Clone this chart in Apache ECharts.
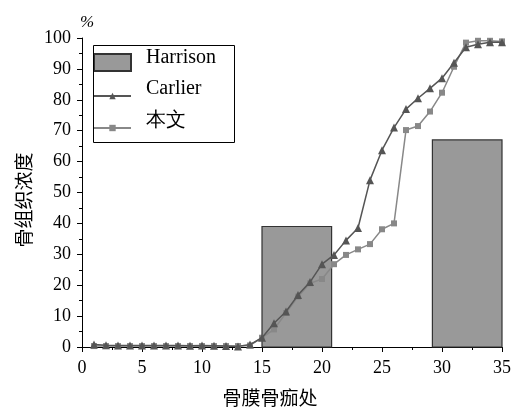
<!DOCTYPE html>
<html>
<head>
<meta charset="utf-8">
<script src="https://cdn.jsdelivr.net/npm/echarts@6/dist/echarts.min.js"></script>
<style>html,body{margin:0;padding:0;background:#fff}#c{width:515px;height:408px}</style>
</head>
<body>
<div id="c"></div>
<script>
// Data
var xTicks = [0, 5, 10, 15, 20, 25, 30, 35];
var harrisonBars = [[15, 20.8, 39], [29.2, 35, 67]]; // [xStart, xEnd, value]
var positions = [1,2,3,4,5,6,7,8,9,10,11,12,13,14,15,16,17,18,19,20,21,22,23,24,25,26,27,28,29,30,31,32,33,34,35];
var carlier = [0.8,0.6,0.5,0.5,0.5,0.5,0.5,0.5,0.4,0.5,0.4,0.3,0.2,0.8,3,7.7,11.5,16.8,21,26.8,29.8,34.5,38.5,54,63.7,71,77,80.5,83.7,87,92,97,98,98.6,98.6];
var benwen = [0.3,0.3,0.3,0.3,0.3,0.3,0.3,0.3,0.3,0.3,0.3,0.3,0.3,0.5,3,5.7,11,16.3,20.6,22,26.8,29.8,31.6,33.3,38.1,40,70.2,71.5,76.2,82.3,90.7,98.5,99.1,99.1,98.9];

function pairs(xs, ys){ return xs.map(function(x,i){return [x, ys[i]];}); }

var chart = echarts.init(document.getElementById('c'), null, {renderer:'canvas'});
var serif = '"Liberation Serif", "Times New Roman", serif';
var cjk = '"Noto Sans CJK SC", sans-serif';
function legendText(padBottom){
  return {
    fontFamily: serif, fontSize: 20, color: '#000',
    rich: {a: {fontFamily: serif, fontSize: 20, color: '#000', lineHeight: 20, padding: [0, 0, padBottom, 10]}}
  };
}
function legendFmt(name){ return '{a|' + name + '}'; }
chart.setOption({
  animation: false,
  backgroundColor: '#fff',
  grid: {left: 82, right: 13, top: 38, bottom: 61, containLabel: false, outerBoundsMode: 'none'},
  legend: [{
    orient: 'vertical', left: 93, top: 48, padding: 0,
    itemWidth: 37, itemHeight: 17,
    textStyle: legendText(9), formatter: legendFmt,
    data: [{name: 'Harrison', icon: 'rect'}]
  }, {
    orient: 'vertical', left: 93, top: 79, padding: 0,
    itemWidth: 37, itemHeight: 8, itemGap: -2,
    textStyle: legendText(14), formatter: legendFmt,
    data: [{name: 'Carlier'}, {name: '本文'}]
  }],
  xAxis: {
    type: 'value', min: 0, max: 35, interval: 5,
    name: '骨膜骨痂处', nameLocation: 'middle', nameGap: 41,
    nameTextStyle: {fontFamily: cjk, fontSize: 19, color: '#000', padding: [0, 44, 0, 0]},
    axisLine: {show: true, onZero: false, lineStyle: {color: '#000', width: 1}},
    axisTick: {show: true, inside: false, length: 5, lineStyle: {color: '#000'}},
    minorTick: {show: true, splitNumber: 2, length: 3, lineStyle: {color: '#000'}},
    axisLabel: {fontFamily: serif, fontSize: 18, color: '#000', margin: 12},
    splitLine: {show: false}
  },
  yAxis: {
    type: 'value', min: 0, max: 100, interval: 10,
    name: '骨组织浓度', nameLocation: 'middle', nameGap: 49, nameRotate: 90,
    nameTextStyle: {fontFamily: cjk, fontSize: 19, color: '#000', padding: [0, 15, 0, 0]},
    axisLine: {show: true, lineStyle: {color: '#000', width: 1}},
    axisTick: {show: true, inside: false, length: 5, lineStyle: {color: '#000'}},
    minorTick: {show: true, splitNumber: 2, length: 3, lineStyle: {color: '#000'}},
    axisLabel: {fontFamily: serif, fontSize: 18, color: '#000', margin: 11},
    splitLine: {show: false}
  },
  graphic: [{
    type: 'text', left: 80, top: 14,
    style: {text: '%', font: 'italic 17px ' + serif, fill: '#000'}
  }, {
    type: 'rect', left: 91, top: 43, z: 100,
    shape: {width: 141, height: 97},
    style: {fill: 'none', stroke: '#000', lineWidth: 1}
  }],
  series: [
    {
      name: 'Harrison', type: 'custom', z: 1,
      itemStyle: {color: '#999999', borderColor: '#333', borderWidth: 1.2},
      encode: {x: [0, 1], y: 2},
      data: harrisonBars,
      renderItem: function(params, api){
        var p0 = api.coord([api.value(0), api.value(2)]);
        var p1 = api.coord([api.value(1), 0]);
        return {
          type: 'rect',
          shape: {x: p0[0], y: p0[1], width: p1[0]-p0[0], height: p1[1]-p0[1]},
          style: {fill: '#999999', stroke: '#333', lineWidth: 1.2}
        };
      }
    },
    {
      name: 'Carlier', type: 'line', z: 3,
      data: pairs(positions, carlier),
      symbol: 'triangle', symbolSize: 8,
      lineStyle: {color: '#555', width: 1.5},
      itemStyle: {color: '#555'}
    },
    {
      name: '本文', type: 'line', z: 2,
      data: pairs(positions, benwen),
      symbol: 'rect', symbolSize: 6,
      lineStyle: {color: '#888', width: 1.5},
      itemStyle: {color: '#888'}
    }
  ]
});
</script>
</body>
</html>
